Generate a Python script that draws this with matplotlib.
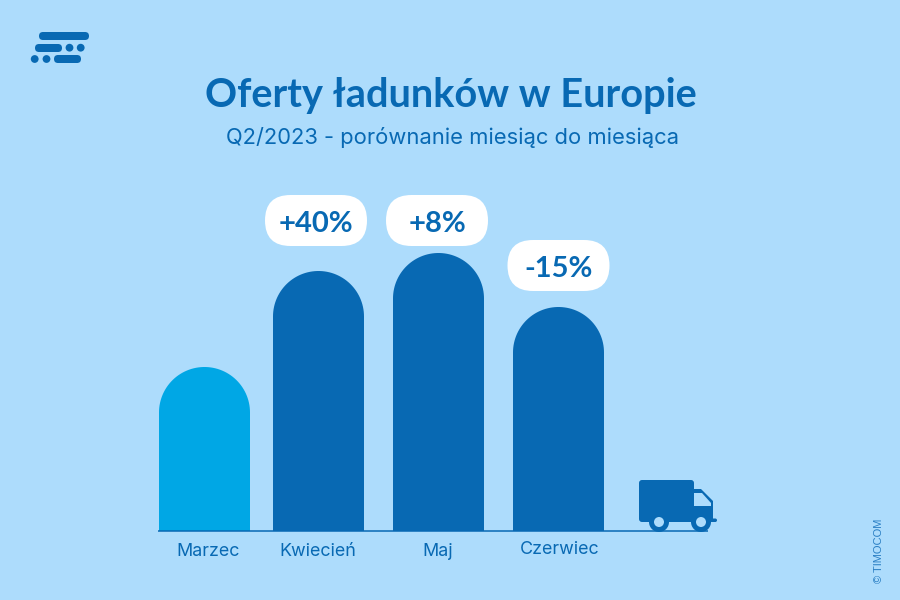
#!/usr/bin/env python
# -*- coding:utf-8 -*-
import numpy as np
import matplotlib
matplotlib.use("Agg")
import matplotlib.pyplot as plt
from matplotlib.path import Path
from matplotlib.patches import PathPatch, FancyBboxPatch, Circle, Polygon

months = ["Marzec", "Kwiecień", "Maj", "Czerwiec"]
values = [164, 260, 278, 224]
changes = [None, "+40%", "+8%", "-15%"]

title = "Oferty ładunków w Europie"
subtitle = "Q2/2023 - porównanie miesiąc do miesiąca"
credit = "© TIMOCOM"

# layout, in pixels of the 900x600 picture
bar_left = [159, 273, 393, 513]
bar_width = 91
label_x = [208.5, 318, 438, 560]
label_y = [552, 552, 552, 550]
pill_x = [None, 316, 437, 558.5]
pill_gap = [None, 25, 7, 16]
pill_w, pill_h = 102, 51

BG = "#ADDCFC"
DARK = "#0869B3"
LIGHT = "#00A7E5"

plt.rcParams["font.family"] = ["Lato", "DejaVu Sans"]

fig = plt.figure(figsize=(9, 6), dpi=100, facecolor=BG)

# bars: y is the value, baseline at pixel row 531
ax = fig.add_axes([0, 0, 1, 1])
ax.set_xlim(0, 900)
ax.set_ylim(-69, 531)
ax.axis("off")

for left, v, m in zip(bar_left, values, months):
    r = bar_width / 2
    ang = np.linspace(np.pi, 0, 60)
    xs = left + r + r * np.cos(ang)
    ys = v - r + r * np.sin(ang)
    verts = [(left, 0)] + list(zip(xs, ys)) + [(left + bar_width, 0), (left, 0)]
    color = LIGHT if m == months[0] else DARK
    ax.add_patch(PathPatch(Path(verts), facecolor=color, edgecolor="none", zorder=2))

ax.plot([158, 708], [0.3, 0.3], color=DARK, lw=1.1, solid_capstyle="butt", zorder=3)

# everything else is placed in pixels, y pointing down
px = fig.add_axes([0, 0, 1, 1], facecolor="none")
px.set_xlim(0, 900)
px.set_ylim(600, 0)
px.axis("off")


def pill(x0, y0, x1, y1, color):
    h = y1 - y0
    px.add_patch(FancyBboxPatch((x0 + h / 2, y0 + h / 2), x1 - x0 - h, 0,
                                boxstyle="round,pad=%f,rounding_size=%f" % (h / 2, h / 2),
                                facecolor=color, edgecolor="none", zorder=5))


# logo
pill(39, 32, 89, 40, DARK)
pill(35, 44, 62, 52, DARK)
pill(54, 55, 81, 63, DARK)
for cx, cy in [(69.5, 47.7), (80.7, 47.7), (34.7, 59), (46.5, 59)]:
    px.add_patch(Circle((cx, cy), 3.9, facecolor=DARK, edgecolor="none"))

px.text(450.5, 96, title, ha="center", va="center", fontsize=28.6, fontweight="bold", color=DARK)
px.text(453, 138, subtitle, ha="center", va="center", fontsize=15.8, family="Inter", color=DARK)

for cx, gap, ch, v in zip(pill_x, pill_gap, changes, values):
    if ch is None:
        continue
    bottom = 531 - v - gap
    pill(cx - pill_w / 2, bottom - pill_h, cx + pill_w / 2, bottom, "white")
    px.text(cx, bottom - pill_h / 2 + 3.5, ch, ha="center", va="center", fontsize=21,
            fontweight="bold", color=DARK, zorder=6)

for m, x, y in zip(months, label_x, label_y):
    px.text(x, y, m, ha="center", va="center", fontsize=12.9, family="Inter", color=DARK)

# truck
px.add_patch(FancyBboxPatch((641, 482), 51, 38, boxstyle="round,pad=2,rounding_size=3",
                            facecolor=DARK, edgecolor="none", zorder=4))
px.add_patch(Polygon([(694, 489), (701, 489), (713, 501), (713, 522), (694, 522)],
                     facecolor=DARK, edgecolor="none", zorder=4))
px.add_patch(Polygon([(694, 493), (702, 493), (711, 503), (711, 506), (694, 506)],
                     facecolor=BG, edgecolor="none", zorder=5))
pill(708, 518.5, 717, 522, DARK)
for cx in [659, 701]:
    px.add_patch(Circle((cx, 522), 10, facecolor=DARK, edgecolor="none", zorder=5))
    px.add_patch(Circle((cx, 522), 5, facecolor=BG, edgecolor="none", zorder=6))

px.text(878.5, 551, credit, rotation=90, ha="center", va="center", fontsize=8,
        family="Liberation Sans", color="#2A7FC4")

fig.savefig("out.png", dpi=100, facecolor=BG)
